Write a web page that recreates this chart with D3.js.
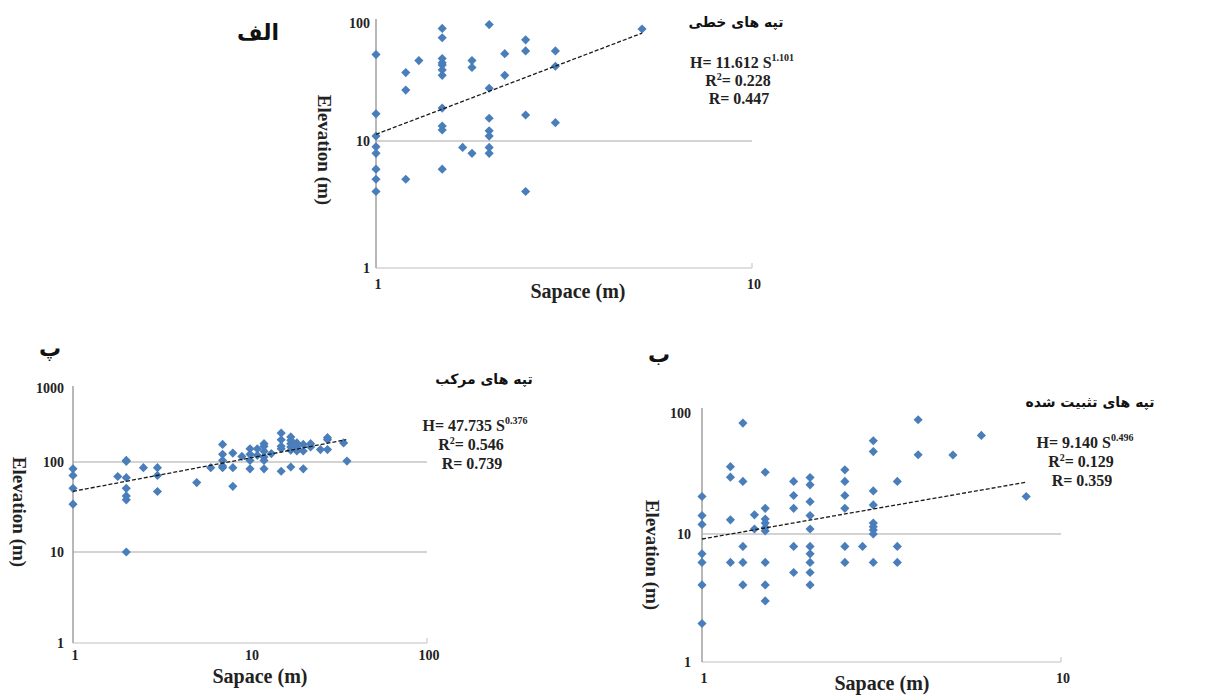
<!DOCTYPE html>
<html><head><meta charset="utf-8">
<script src="https://cdn.jsdelivr.net/npm/d3@7"></script>
<style>body{margin:0;background:#fff}</style></head>
<body><svg id="c" width="1206" height="696"></svg>
<script>
// ---------- DATA ----------
// Panel الف : تپه های خطی (linear hills)
const linearX = [1,1,1,1,1,1,1,1, 1.2,1.2,1.2, 1.3,
  1.5,1.5,1.5,1.5,1.5,1.5,1.5,1.5,1.5,1.5,1.5, 1.7, 1.8,1.8,1.8,
  2,2,2,2,2,2,2, 2.2,2.2, 2.5,2.5,2.5,2.5, 3,3,3, 5.1];
const linearY = [54,17,11,9,8,6,5,4, 38,27,5, 48,
  90,75,50,46,44,40,36,19,13.4,12.4,6, 8.9, 48,42,8,
  97,28,15.6,12.2,11,8.9,8, 55,36, 72,58,16.6,4, 58,43,14.3, 89];
const linearTrendX = [1, 5.1];
const linearTrendY = [11.4, 82];
const linearStats = ["11.612", "1.101", "0.228", "0.447"];
const linearXTicks = [1, 10];
const linearYTicks = [1, 10, 100];

// Panel پ : تپه های مرکب (compound hills)
const compoundX = [1,1,1,1, 1.79, 2,2,2,2,2,2,2, 2.5, 3,3,3, 5, 6,
  7,7,7,7,7, 8,8,8, 9, 10,10,10,10, 11,11, 12,12,12,12,12,12, 13.2,
  15,15,15,15,15, 17,17,17,17,17,17, 18.4,18.4,18.4, 20,20,20, 22,22, 25,
  27.4,27.4,27.4, 33.8, 35.3];
const compoundY = [84,71,51,34, 69, 105,102,67,51,42,38,10, 86.5, 86.5,71,47, 59, 86.5,
  173,127,105,90,86.5, 132,86.5,53.7, 119, 151,127,105,84, 151,123, 177,163,140,117,105,84, 130,
  246,200,163,151,79, 218,196,177,160,144,88, 181,160,141, 173,141,84, 177,160, 147,
  213,200,147, 181, 103];
const compoundTrendX = [1, 35];
const compoundTrendY = [47.2, 200];
const compoundStats = ["47.735", "0.376", "0.546", "0.739"];
const compoundXTicks = [1, 10, 100];
const compoundYTicks = [1, 10, 100, 1000];

// Panel ب : تپه های تثبیت شده (stabilized hills)
const stabX = [1,1,1,1,1,1,1, 1.2,1.2,1.2,1.2, 1.3,1.3,1.3,1.3,1.3, 1.4,1.4,
  1.5,1.5,1.5,1.5,1.5,1.5,1.5,1.5,1.5, 1.8,1.8,1.8,1.8,1.8,
  2,2,2,2,2,2,2,2,2,2, 2.5,2.5,2.5,2.5,2.5,2.5, 2.8,
  3,3,3,3,3,3,3,3,3, 3.5,3.5,3.5, 4,4, 5, 6, 8];
const stabY = [20.4,14.2,12,7,6,4,2, 36,29.5,13.1,6, 82.6,27.2,8,6,4, 14.4,11,
  32.4,16.3,13.3,12.3,11.3,10.6,6,4,3, 27.2,20.8,16.3,8,5,
  29.3,25.5,18.5,14.2,11,8,7,6,5,4, 33.9,27.2,20.8,16.3,8,6, 8,
  59,48,22.7,17.4,12.3,11.5,10.8,10,6, 27.2,8,6, 88,45.2, 45, 65.3, 20.4];
const stabTrendX = [1, 8];
const stabTrendY = [9.14, 26.8];
const stabStats = ["9.140", "0.496", "0.129", "0.359"];
const stabXTicks = [1, 10];
const stabYTicks = [1, 10, 100];

const axisTitleX = "Sapace (m)";
const axisTitleY = "Elevation (m)";

// ---------- DRAW ----------
const svg = d3.select("#c");
const serif = "'Liberation Serif','Times New Roman',serif";
const arabic = "'DejaVu Sans','Noto Sans',sans-serif";
const blue = "#4a7ebb";

function panel(o) {
  const x = d3.scaleLog().domain(o.xTicks).range(o.xRange);
  const y = d3.scaleLog().domain(o.yTicks).range(o.yRange);
  const g = svg.append("g");
  const x0 = x(o.xTicks[0]), x1 = x(o.xTicks[o.xTicks.length - 1]);
  const yb = y(o.yTicks[0]);

  // gridlines
  g.selectAll("line.grid").data(o.yTicks.slice(1, -1)).join("line")
    .attr("x1", x0).attr("x2", x1)
    .attr("y1", d => y(d)).attr("y2", d => y(d))
    .attr("stroke", "#a8a8a8").attr("stroke-width", 1.2);
  // bottom axis
  g.append("line").attr("x1", x0).attr("x2", x1).attr("y1", yb).attr("y2", yb)
    .attr("stroke", "#d4d4d4").attr("stroke-width", 1.5);
  g.append("line").attr("x1", x1).attr("x2", x1).attr("y1", yb - 5).attr("y2", yb)
    .attr("stroke", "#d4d4d4").attr("stroke-width", 1.5);
  // left axis
  g.append("line").attr("x1", x0).attr("x2", x0).attr("y1", yb).attr("y2", o.yTop)
    .attr("stroke", "#a0a0a0").attr("stroke-width", 1.5);

  // y tick labels
  g.selectAll("text.yt").data(o.yTicks).join("text")
    .attr("x", o.yLabelX).attr("y", d => y(d) + 5)
    .attr("text-anchor", "end").attr("font-family", serif).attr("font-weight", "bold")
    .attr("font-size", 14).attr("fill", "#222").text(d => d);
  // x tick labels
  g.selectAll("text.xt").data(o.xTicks).join("text")
    .attr("x", d => x(d) + 2).attr("y", o.xLabelY)
    .attr("text-anchor", "middle").attr("font-family", serif).attr("font-weight", "bold")
    .attr("font-size", 14).attr("fill", "#222").text(d => d);

  // points
  const sym = d3.symbol(d3.symbolSquare, 42);
  g.selectAll("path.pt").data(o.xs.map((v, i) => [v, o.ys[i]])).join("path")
    .attr("d", sym)
    .attr("transform", d => `translate(${x(d[0])},${y(d[1])}) rotate(45)`)
    .attr("fill", blue);

  // trend line
  const line = d3.line().x(d => x(d[0])).y(d => y(d[1]));
  g.append("path").datum(o.tx.map((v, i) => [v, o.ty[i]]))
    .attr("d", line).attr("fill", "none").attr("stroke", "#1a1a1a")
    .attr("stroke-width", 1.3).attr("stroke-dasharray", "4,2");

  // axis titles
  g.append("text").attr("x", o.xTitle[0]).attr("y", o.xTitle[1])
    .attr("text-anchor", "middle").attr("font-family", serif).attr("font-weight", "bold")
    .attr("font-size", 20).attr("fill", "#222").text(axisTitleX);
  g.append("text").attr("transform", `translate(${o.yTitle[0]},${o.yTitle[1]}) rotate(90)`)
    .attr("text-anchor", "middle").attr("font-family", serif).attr("font-weight", "bold")
    .attr("font-size", 19).attr("fill", "#222").text(axisTitleY);

  // panel letter
  g.append("text").attr("x", o.letterPos[0]).attr("y", o.letterPos[1])
    .attr("text-anchor", "middle").attr("font-family", arabic).attr("font-weight", "bold")
    .attr("font-size", 22).attr("fill", "#111").attr("direction", "rtl").text(o.letter);
  // title
  g.append("text").attr("x", o.titlePos[0]).attr("y", o.titlePos[1])
    .attr("text-anchor", "middle").attr("font-family", arabic).attr("font-weight", "bold")
    .attr("font-size", 14).attr("fill", "#111").attr("direction", "rtl").text(o.title);

  // equation block
  const s = o.stats;
  const eq = g.append("text").attr("x", o.eqPos[0]).attr("y", o.eqPos[1])
    .attr("text-anchor", "middle").attr("font-family", serif).attr("font-weight", "bold")
    .attr("font-size", 16).attr("fill", "#222");
  eq.append("tspan").text(`H= ${s[0]} S`);
  eq.append("tspan").attr("font-size", 10).attr("dy", -7).text(s[1]);
  const r2 = g.append("text").attr("x", o.eqPos[0] - 4).attr("y", o.eqPos[1] + o.eqGap)
    .attr("text-anchor", "middle").attr("font-family", serif).attr("font-weight", "bold")
    .attr("font-size", 16).attr("fill", "#222");
  r2.append("tspan").text("R");
  r2.append("tspan").attr("font-size", 10).attr("dy", -6).text("2");
  r2.append("tspan").attr("dy", 6).text(`= ${s[2]}`);
  g.append("text").attr("x", o.eqPos[0] - 3).attr("y", o.eqPos[1] + 2 * o.eqGap)
    .attr("text-anchor", "middle").attr("font-family", serif).attr("font-weight", "bold")
    .attr("font-size", 16).attr("fill", "#222").text(`R= ${s[3]}`);
}

panel({
  xs: linearX, ys: linearY, tx: linearTrendX, ty: linearTrendY, stats: linearStats,
  xTicks: linearXTicks, yTicks: linearYTicks,
  xRange: [376, 752], yRange: [268, 141, 23], yTop: 19,
  yLabelX: 370, xLabelY: 289,
  xTitle: [578, 298], yTitle: [318, 150],
  letter: "الف", letterPos: [258, 40],
  title: "تپه های خطی", titlePos: [736, 27],
  eqPos: [742, 68], eqGap: 18
});
panel({
  xs: compoundX, ys: compoundY, tx: compoundTrendX, ty: compoundTrendY, stats: compoundStats,
  xTicks: compoundXTicks, yTicks: compoundYTicks,
  xRange: [73, 250, 427], yRange: [643, 552, 462, 388], yTop: 386,
  yLabelX: 64, xLabelY: 660,
  xTitle: [260, 683], yTitle: [13, 512],
  letter: "پ", letterPos: [50, 356],
  title: "تپه های مرکب", titlePos: [484, 384],
  eqPos: [475, 431], eqGap: 19
});
panel({
  xs: stabX, ys: stabY, tx: stabTrendX, ty: stabTrendY, stats: stabStats,
  xTicks: stabXTicks, yTicks: stabYTicks,
  xRange: [702, 1061], yRange: [662, 534, 413], yTop: 408,
  yLabelX: 691, xLabelY: 683,
  xTitle: [882, 690], yTitle: [646, 555],
  letter: "ب", letterPos: [659, 362],
  title: "تپه های تثبیت شده", titlePos: [1090, 407],
  eqPos: [1085, 448], eqGap: 19
});
</script>
</body></html>
